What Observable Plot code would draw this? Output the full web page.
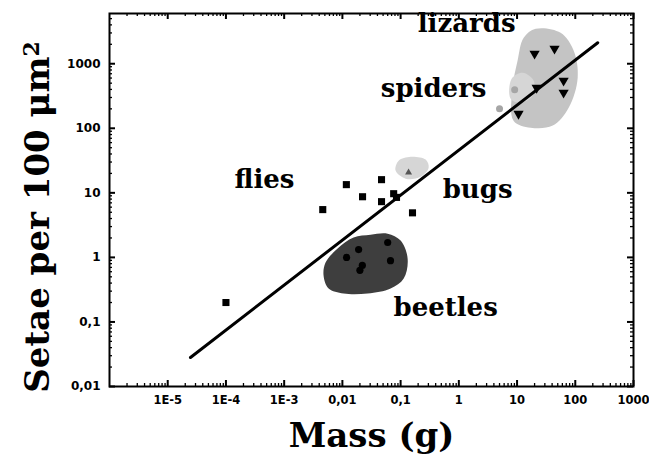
<!DOCTYPE html>
<html><head><meta charset="utf-8">
<script src="https://cdn.jsdelivr.net/npm/d3@7"></script>
<script src="https://cdn.jsdelivr.net/npm/@observablehq/plot@0.6"></script>
<style>body{margin:0;background:#fff}</style>
</head><body><div id="chart"></div>
<script>
// ---- data (mass in g, setae per 100 µm²) ----
const fliesMass  = [0.0046, 0.0117, 0.0222, 0.047, 0.047, 0.076, 0.085, 0.16, 0.0001];
const fliesSetae = [5.5, 13.4, 8.7, 16, 7.3, 9.7, 8.5, 4.9, 0.2];

const beetlesMass  = [0.060, 0.019, 0.0118, 0.067, 0.022, 0.020];
const beetlesSetae = [1.7, 1.32, 1.0, 0.89, 0.75, 0.63];

const lizardsMass  = [20, 44, 21.7, 63, 63, 10.6];
const lizardsSetae = [1430, 1710, 425, 546, 356, 168];

const spidersMass  = [9.1, 5.0];
const spidersSetae = [396, 201];

const bugsMass  = [0.137];
const bugsSetae = [20.6];

const fitMass  = [2.46e-5, 243];
const fitSetae = [0.0281, 2113];

// group outlines
const lizardHullMass  = [20.9, 56, 94, 110, 77, 41, 17.1, 8.7, 8.4, 10.2, 13];
const lizardHullSetae = [3480, 3020, 1590, 607, 208, 110, 102, 131, 425, 1110, 2520];
const spiderHullMass  = [8.07, 12.5, 19.3, 18.5, 11.5, 7.76];
const spiderHullSetae = [586, 726, 546, 320, 249, 287];
const bugHullMass  = [0.082, 0.0925, 0.149, 0.269, 0.303, 0.221, 0.122];
const bugHullSetae = [22.1, 31.5, 36.3, 32.7, 24.5, 17.8, 16.6];
const beetleHullMass  = [0.00514, 0.00828, 0.01556, 0.0305, 0.0598, 0.1, 0.132, 0.113, 0.0673, 0.0271, 0.0105, 0.0058, 0.00475];
const beetleHullSetae = [0.83, 1.37, 2.03, 2.25, 2.33, 1.82, 0.957, 0.47, 0.329, 0.275, 0.275, 0.329, 0.522];

// group labels
const labelText  = ["lizards", "spiders", "flies", "bugs", "beetles"];
const labelMass  = [1.36, 0.369, 0.00046, 2.10, 0.593];
const labelSetae = [4210, 415, 16.2, 11.3, 0.169];

// axes
const xTickValues = [1e-5, 1e-4, 1e-3, 0.01, 0.1, 1, 10, 100, 1000];
const xTickLabels = ["1E-5", "1E-4", "1E-3", "0,01", "0,1", "1", "10", "100", "1000"];
const yTickValues = [0.01, 0.1, 1, 10, 100, 1000];
const yTickLabels = ["0,01", "0,1", "1", "10", "100", "1000"];
const xDecades = [1e-6, 1e-5, 1e-4, 1e-3, 0.01, 0.1, 1, 10, 100];
const yDecades = [0.01, 0.1, 1, 10, 100, 1000];
const xTitle = "Mass (g)";
const yTitle = "Setae per 100 \u03bcm";
const yTitleSup = "2";

// ---- build tables ----
const zip = (xs, ys) => xs.map((m, i) => ({m, s: ys[i]}));
const flies = zip(fliesMass, fliesSetae);
const beetles = zip(beetlesMass, beetlesSetae);
const lizards = zip(lizardsMass, lizardsSetae);
const spiders = zip(spidersMass, spidersSetae);
const bugs = zip(bugsMass, bugsSetae);
const fit = zip(fitMass, fitSetae);
const lizardHull = zip(lizardHullMass, lizardHullSetae);
const spiderHull = zip(spiderHullMass, spiderHullSetae);
const bugHull = zip(bugHullMass, bugHullSetae);
const beetleHull = zip(beetleHullMass, beetleHullSetae);
const labels = labelText.map((t, i) => ({t, m: labelMass[i], s: labelSetae[i]}));

const mult = [2, 3, 4, 5, 6, 7, 8, 9];
const xMinor = xDecades.flatMap(d => mult.map(k => d * k));
const yMinor = yDecades.slice(0, -1).flatMap(d => mult.map(k => d * k)).concat(mult.slice(0, 4).map(k => 1000 * k));

const W = 649, H = 459, mT = 13, mR = 16, mB = 73, mL = 109;
const fH = H - mT - mB, fW = W - mL - mR;
const serif = "DejaVu Serif";
const sans = "DejaVu Sans";

const chart = Plot.plot({
  width: W, height: H,
  marginTop: mT, marginRight: mR, marginBottom: mB, marginLeft: mL,
  style: {background: "white", fontFamily: sans, fontWeight: "bold", fontSize: "12px", overflow: "visible"},
  x: {type: "log", domain: [1e-6, 1000]},
  y: {type: "log", domain: [0.01, 6000]},
  marks: [
    Plot.line(lizardHull, {x: "m", y: "s", curve: "catmull-rom-closed", fill: "#c4c4c4", stroke: "none"}),
    Plot.line(spiderHull, {x: "m", y: "s", curve: "catmull-rom-closed", fill: "#d6d6d6", stroke: "none"}),
    Plot.line(bugHull, {x: "m", y: "s", curve: "catmull-rom-closed", fill: "#d6d6d6", stroke: "none"}),
    Plot.line(beetleHull, {x: "m", y: "s", curve: "catmull-rom-closed", fill: "#3e3e3e", stroke: "none"}),
    Plot.line(fit, {x: "m", y: "s", stroke: "black", strokeWidth: 3}),
    Plot.dot(flies, {x: "m", y: "s", symbol: "square", r: 4, fill: "black", stroke: "none"}),
    Plot.dot(beetles, {x: "m", y: "s", symbol: "circle", r: 3.6, fill: "black", stroke: "none"}),
    Plot.dot(lizards, {x: "m", y: "s", symbol: "triangle", rotate: 180, r: 3.8, fill: "black", stroke: "none"}),
    Plot.dot(spiders, {x: "m", y: "s", symbol: "circle", r: 3.5, fill: "#a6a6a6", stroke: "none"}),
    Plot.dot(bugs, {x: "m", y: "s", symbol: "triangle", r: 2.6, fill: "#555", stroke: "none"}),
    Plot.text(labels, {x: "m", y: "s", text: "t", fontFamily: serif, fontWeight: "bold", fontSize: 26, fill: "black"}),
    // frame ticks (inward, all four sides)
    Plot.tickX(xMinor, {x: d => d, insetTop: fH - 3, strokeWidth: 1.3}),
    Plot.tickX(xMinor, {x: d => d, insetBottom: fH - 3, strokeWidth: 1.3}),
    Plot.tickX(xTickValues, {x: d => d, insetTop: fH - 6, strokeWidth: 2}),
    Plot.tickX(xTickValues, {x: d => d, insetBottom: fH - 6, strokeWidth: 2}),
    Plot.tickY(yMinor, {y: d => d, insetRight: fW - 3, strokeWidth: 1.3}),
    Plot.tickY(yMinor, {y: d => d, insetLeft: fW - 3, strokeWidth: 1.3}),
    Plot.tickY(yTickValues, {y: d => d, insetRight: fW - 6, strokeWidth: 2}),
    Plot.tickY(yTickValues, {y: d => d, insetLeft: fW - 6, strokeWidth: 2}),
    Plot.frame({stroke: "black", strokeWidth: 2}),
    Plot.axisX({ticks: xTickValues, tickFormat: d => xTickLabels[xTickValues.indexOf(d)], tickSize: 0, tickPadding: 9, label: null, fontFamily: sans, fontSize: 11.5, fontWeight: "bold"}),
    Plot.axisY({ticks: yTickValues, tickFormat: d => yTickLabels[yTickValues.indexOf(d)], tickSize: 0, tickPadding: 9, label: null, fontFamily: sans, fontSize: 12, fontWeight: "bold"}),
    Plot.text([xTitle], {frameAnchor: "bottom", textAnchor: "middle", lineAnchor: "middle", dy: 50, fontFamily: serif, fontWeight: "bold", fontSize: 34, fill: "black"}),
    Plot.text([yTitle], {frameAnchor: "left", textAnchor: "middle", lineAnchor: "middle", rotate: -90, dx: -71, dy: 17, fontFamily: serif, fontWeight: "bold", fontSize: 34, fill: "black"})
  ]
});

// superscript on the y title
d3.select(chart).selectAll("text").filter(function () { return this.textContent === yTitle; }).each(function () {
  d3.select(this).append("tspan").attr("dy", "-0.45em").attr("font-size", "22px").text(yTitleSup);
});
document.getElementById("chart").appendChild(chart);
</script>
</body></html>
